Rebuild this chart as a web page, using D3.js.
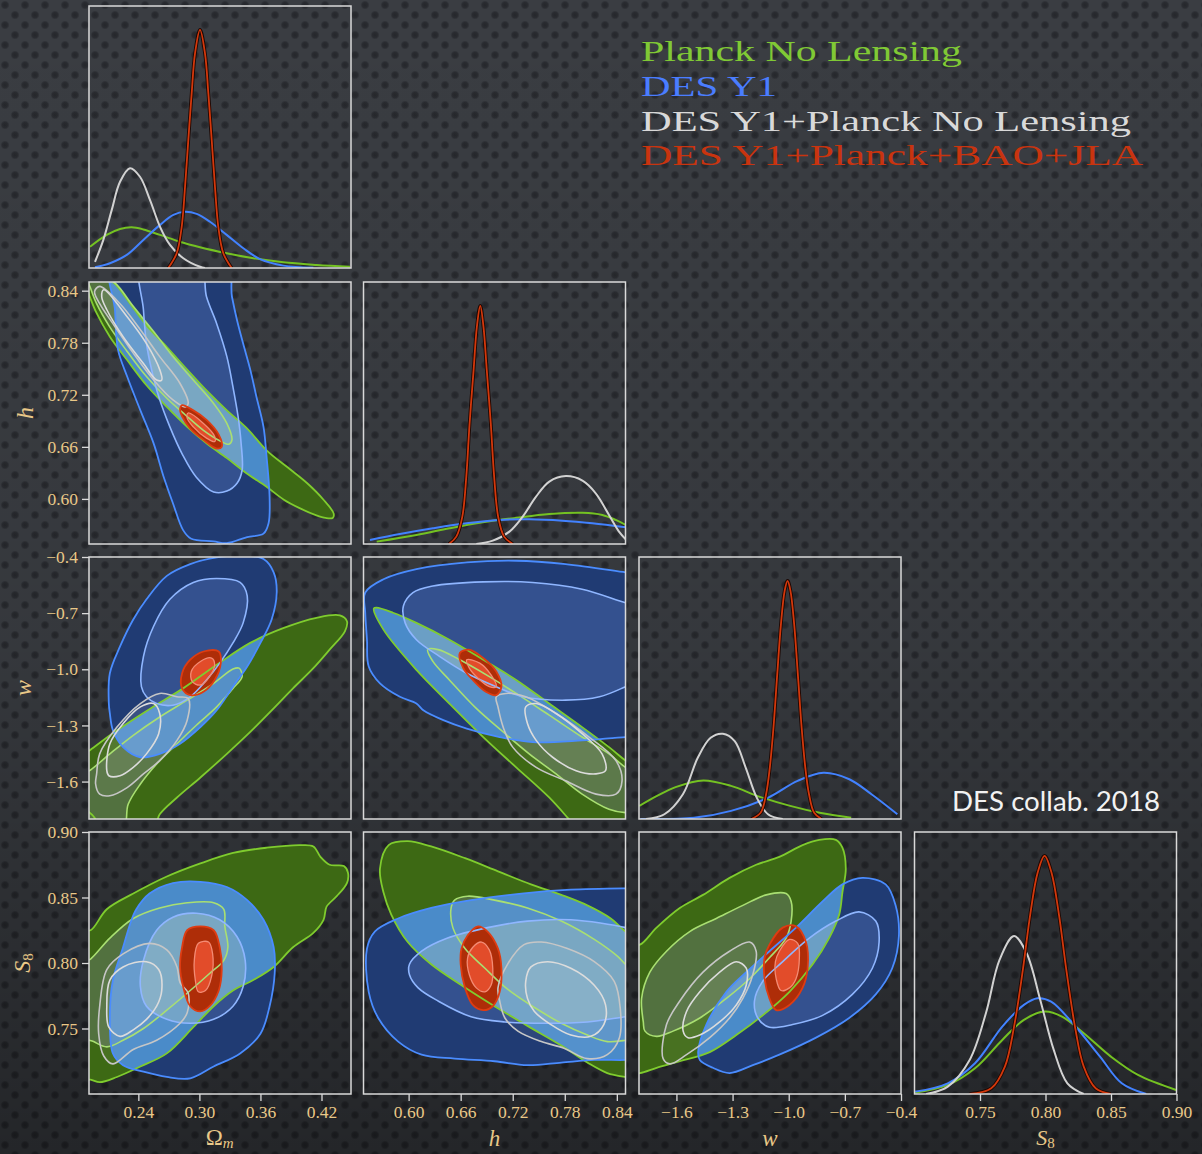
<!DOCTYPE html>
<html>
<head>
<meta charset="utf-8">
<script src="https://cdn.jsdelivr.net/npm/d3@7"></script>
<style>
  html, body { margin: 0; padding: 0; background: #35383d; }
  svg { display: block; }
</style>
</head>
<body>
<svg id="chart" width="1202" height="1154"></svg>
<script>
// ---------------- parameters ----------------
const paramDomains = [[0.1915, 0.449], [0.548, 0.850], [-1.80, -0.40], [0.70, 0.90]];
const paramTicks = [
  [0.24, 0.30, 0.36, 0.42],
  [0.60, 0.66, 0.72, 0.78, 0.84],
  [-1.6, -1.3, -1.0, -0.7, -0.4],
  [0.75, 0.80, 0.85, 0.90]
];
const paramDecimals = [2, 2, 1, 2];
const legendLabels = ["Planck No Lensing", "DES Y1", "DES Y1+Planck No Lensing", "DES Y1+Planck+BAO+JLA"];

// ---------------- 1D marginals: [value, relative density] ----------------
const om1dPlanck = [[0.1925,0.089],[0.2089,0.139],[0.2220,0.164],[0.2335,0.171],[0.2449,0.162],[0.2613,0.139],[0.2809,0.110],[0.3006,0.087],[0.3268,0.062],[0.3530,0.041],[0.3825,0.024],[0.4153,0.013],[0.4480,0.005]];
const om1dDes = [[0.1974,0.003],[0.2121,0.020],[0.2286,0.055],[0.2449,0.118],[0.2613,0.181],[0.2744,0.223],[0.2859,0.236],[0.2974,0.227],[0.3104,0.194],[0.3268,0.139],[0.3432,0.083],[0.3596,0.037],[0.3825,0.010],[0.4120,0.001]];
const om1dComb = [[0.1974,0.026],[0.2056,0.118],[0.2138,0.243],[0.2220,0.362],[0.2318,0.419],[0.2416,0.383],[0.2515,0.285],[0.2613,0.173],[0.2711,0.097],[0.2842,0.041],[0.3006,0.005],[0.3055,0]];
const om1dAll = [[0.2694,0],[0.2777,0.062],[0.2826,0.173],[0.2859,0.341],[0.2891,0.537],[0.2924,0.733],[0.2957,0.901],[0.3006,1.0],[0.3055,0.901],[0.3088,0.733],[0.3121,0.537],[0.3153,0.341],[0.3186,0.173],[0.3235,0.062],[0.3317,0]];

const h1dPlanck = [[0.5632,0.010],[0.6091,0.038],[0.6473,0.066],[0.6855,0.091],[0.7239,0.110],[0.7622,0.126],[0.8004,0.131],[0.8233,0.122],[0.8387,0.101],[0.8502,0.080]];
const h1dDes = [[0.5555,0.017],[0.5899,0.042],[0.6281,0.066],[0.6665,0.087],[0.7047,0.101],[0.7392,0.104],[0.7774,0.098],[0.8118,0.087],[0.8502,0.070]];
const h1dComb = [[0.6780,0],[0.6970,0.014],[0.7162,0.052],[0.7315,0.115],[0.7469,0.199],[0.7622,0.262],[0.7813,0.285],[0.8004,0.266],[0.8157,0.213],[0.8310,0.122],[0.8425,0.052],[0.8502,0.020]];
const h1dAll = [[0.6465,0],[0.6550,0.031],[0.6619,0.115],[0.6665,0.283],[0.6703,0.507],[0.6749,0.730],[0.6787,0.912],[0.6826,1.0],[0.6863,0.912],[0.6901,0.730],[0.6947,0.507],[0.6986,0.283],[0.7032,0.115],[0.7101,0.031],[0.7200,0]];

const w1dPlanck = [[-1.7984,0.055],[-1.7036,0.097],[-1.6047,0.134],[-1.4567,0.162],[-1.3083,0.139],[-1.1502,0.092],[-0.9921,0.055],[-0.8346,0.026],[-0.6664,0.005]];
const w1dDes = [[-1.7925,0],[-1.5062,0.005],[-1.3083,0.034],[-1.1108,0.089],[-0.9527,0.160],[-0.8143,0.194],[-0.6763,0.167],[-0.5578,0.104],[-0.4194,0.020]];
const w1dComb = [[-1.7627,0],[-1.6643,0.020],[-1.5653,0.104],[-1.4860,0.257],[-1.4173,0.341],[-1.3519,0.358],[-1.2886,0.327],[-1.2295,0.215],[-1.1704,0.089],[-1.1108,0.020],[-1.0320,0]];
const w1dAll = [[-1.1997,0],[-1.1502,0.026],[-1.1209,0.104],[-1.1012,0.215],[-1.0815,0.383],[-1.0613,0.607],[-1.0416,0.817],[-1.0219,0.957],[-1.0060,1.0],[-0.9905,0.957],[-0.9708,0.817],[-0.9511,0.607],[-0.9309,0.383],[-0.9112,0.215],[-0.8915,0.104],[-0.8639,0.026],[-0.8245,0]];

const s1dPlanck = [[0.7005,0.005],[0.7254,0.038],[0.7462,0.108],[0.7670,0.227],[0.7835,0.311],[0.7993,0.346],[0.8126,0.325],[0.8292,0.255],[0.8499,0.157],[0.8706,0.080],[0.8997,0.017]];
const s1dDes = [[0.7005,0.010],[0.7254,0.045],[0.7462,0.129],[0.7670,0.283],[0.7835,0.374],[0.7939,0.402],[0.8043,0.388],[0.8208,0.297],[0.8416,0.157],[0.8582,0.045],[0.8769,0]];
const s1dComb = [[0.7089,0],[0.7254,0.031],[0.7421,0.143],[0.7545,0.339],[0.7649,0.563],[0.7760,0.663],[0.7856,0.591],[0.7960,0.395],[0.8063,0.185],[0.8167,0.045],[0.8292,0]];
const s1dAll = [[0.7421,0],[0.7586,0.024],[0.7690,0.115],[0.7760,0.283],[0.7827,0.521],[0.7885,0.759],[0.7939,0.927],[0.7993,1.0],[0.8047,0.927],[0.8101,0.759],[0.8159,0.521],[0.8225,0.283],[0.8292,0.115],[0.8383,0.024],[0.8499,0]];

// ---------------- 2D credible contours (95% and 68%) ----------------
// Omega_m vs h
const omhPlanck95 = [[0.202,0.856],[0.215,0.850],[0.232,0.825],[0.248,0.800],[0.268,0.775],[0.288,0.749],[0.307,0.725],[0.327,0.702],[0.347,0.681],[0.366,0.656],[0.386,0.637],[0.406,0.618],[0.422,0.599],[0.432,0.583],[0.431,0.578],[0.424,0.578],[0.415,0.581],[0.399,0.589],[0.383,0.599],[0.366,0.614],[0.347,0.629],[0.327,0.647],[0.307,0.664],[0.288,0.683],[0.268,0.706],[0.248,0.731],[0.229,0.760],[0.212,0.787],[0.199,0.814],[0.191,0.837],[0.183,0.864]];
const omhPlanck68 = [[0.202,0.858],[0.217,0.849],[0.235,0.822],[0.255,0.793],[0.274,0.764],[0.294,0.737],[0.314,0.710],[0.327,0.687],[0.332,0.668],[0.329,0.663],[0.320,0.667],[0.304,0.679],[0.286,0.697],[0.268,0.716],[0.248,0.741],[0.229,0.770],[0.212,0.798],[0.199,0.825],[0.193,0.843],[0.189,0.858]];
const omhDes95 = [[0.214,0.873],[0.217,0.818],[0.220,0.772],[0.229,0.741],[0.242,0.702],[0.255,0.664],[0.265,0.625],[0.274,0.595],[0.284,0.564],[0.292,0.554],[0.314,0.551],[0.327,0.549],[0.347,0.556],[0.363,0.560],[0.368,0.572],[0.369,0.602],[0.366,0.649],[0.363,0.683],[0.356,0.718],[0.350,0.749],[0.343,0.779],[0.337,0.806],[0.332,0.833],[0.326,0.873]];
const omhDes68 = [[0.243,0.873],[0.245,0.818],[0.248,0.779],[0.253,0.749],[0.260,0.718],[0.271,0.683],[0.283,0.652],[0.297,0.625],[0.314,0.608],[0.327,0.609],[0.337,0.618],[0.342,0.633],[0.341,0.664],[0.338,0.695],[0.333,0.729],[0.327,0.764],[0.317,0.802],[0.307,0.833],[0.300,0.873]];
const omhComb95 = [[0.202,0.845],[0.222,0.825],[0.242,0.795],[0.261,0.764],[0.281,0.733],[0.289,0.710],[0.286,0.706],[0.274,0.714],[0.255,0.737],[0.235,0.768],[0.215,0.802],[0.202,0.825],[0.197,0.839]];
const omhComb68 = [[0.206,0.841],[0.229,0.810],[0.248,0.779],[0.261,0.749],[0.263,0.737],[0.258,0.737],[0.245,0.756],[0.225,0.787],[0.209,0.818],[0.204,0.833]];
const omhAll95 = [[0.283,0.708],[0.294,0.702],[0.307,0.691],[0.319,0.674],[0.322,0.660],[0.317,0.658],[0.304,0.668],[0.291,0.681],[0.283,0.695],[0.281,0.704]];
const omhAll68 = [[0.289,0.699],[0.304,0.687],[0.315,0.672],[0.315,0.666],[0.307,0.670],[0.294,0.683],[0.288,0.693]];

// Omega_m vs w
const omwPlanck95 = [[0.183,-1.470],[0.193,-1.430],[0.219,-1.326],[0.252,-1.209],[0.284,-1.102],[0.317,-0.976],[0.350,-0.859],[0.383,-0.779],[0.415,-0.725],[0.438,-0.712],[0.445,-0.743],[0.443,-0.797],[0.428,-0.895],[0.412,-0.994],[0.392,-1.102],[0.373,-1.209],[0.350,-1.335],[0.327,-1.452],[0.301,-1.578],[0.278,-1.685],[0.261,-1.775],[0.255,-1.847],[0.202,-1.847],[0.197,-1.793],[0.191,-1.761],[0.183,-1.739]];
const omwPlanck68 = [[0.186,-1.559],[0.193,-1.538],[0.212,-1.452],[0.235,-1.353],[0.261,-1.255],[0.288,-1.165],[0.314,-1.075],[0.333,-0.999],[0.339,-0.994],[0.342,-1.039],[0.333,-1.102],[0.317,-1.201],[0.297,-1.299],[0.278,-1.398],[0.258,-1.506],[0.242,-1.613],[0.230,-1.721],[0.225,-1.847],[0.186,-1.847]];
const omwDes95 = [[0.211,-1.183],[0.212,-1.021],[0.222,-0.878],[0.235,-0.734],[0.248,-0.626],[0.268,-0.501],[0.291,-0.438],[0.317,-0.402],[0.343,-0.393],[0.363,-0.411],[0.373,-0.482],[0.376,-0.590],[0.371,-0.734],[0.360,-0.859],[0.347,-0.985],[0.333,-1.093],[0.317,-1.219],[0.301,-1.309],[0.281,-1.398],[0.261,-1.452],[0.242,-1.470],[0.225,-1.416],[0.215,-1.326],[0.212,-1.236]];
const omwDes68 = [[0.243,-1.093],[0.245,-0.932],[0.255,-0.770],[0.271,-0.626],[0.294,-0.536],[0.317,-0.515],[0.340,-0.536],[0.347,-0.608],[0.343,-0.752],[0.333,-0.859],[0.320,-0.967],[0.307,-1.057],[0.291,-1.147],[0.274,-1.192],[0.258,-1.183],[0.248,-1.147]];
const omwComb95 = [[0.199,-1.559],[0.202,-1.452],[0.219,-1.309],[0.242,-1.183],[0.261,-1.129],[0.278,-1.147],[0.289,-1.156],[0.288,-1.272],[0.278,-1.380],[0.261,-1.488],[0.245,-1.559],[0.229,-1.632],[0.212,-1.676],[0.202,-1.667],[0.198,-1.613]];
const omwComb68 = [[0.209,-1.542],[0.212,-1.398],[0.225,-1.290],[0.242,-1.201],[0.255,-1.183],[0.261,-1.236],[0.260,-1.344],[0.248,-1.452],[0.235,-1.524],[0.222,-1.569],[0.211,-1.569]];
const omwAll95 = [[0.283,-1.021],[0.291,-0.949],[0.304,-0.905],[0.319,-0.905],[0.321,-0.967],[0.315,-1.057],[0.304,-1.120],[0.291,-1.138],[0.283,-1.102]];
const omwAll68 = [[0.292,-1.012],[0.301,-0.958],[0.312,-0.940],[0.315,-0.976],[0.310,-1.039],[0.301,-1.084],[0.293,-1.066]];

// h vs w
const hwPlanck95 = [[0.563,-0.671],[0.582,-0.698],[0.609,-0.752],[0.647,-0.842],[0.686,-0.949],[0.724,-1.057],[0.762,-1.183],[0.800,-1.309],[0.831,-1.416],[0.850,-1.488],[0.866,-1.542],[0.866,-1.865],[0.797,-1.865],[0.785,-1.802],[0.762,-1.685],[0.724,-1.524],[0.686,-1.362],[0.647,-1.183],[0.609,-1.003],[0.571,-0.788],[0.560,-0.675]];
const hwPlanck68 = [[0.622,-0.895],[0.634,-0.895],[0.659,-0.949],[0.693,-1.039],[0.724,-1.129],[0.762,-1.245],[0.800,-1.362],[0.831,-1.452],[0.850,-1.524],[0.866,-1.559],[0.866,-1.757],[0.850,-1.766],[0.831,-1.748],[0.800,-1.667],[0.770,-1.559],[0.739,-1.452],[0.709,-1.335],[0.678,-1.209],[0.647,-1.057],[0.628,-0.958]];
const hwDes95 = [[0.550,-0.590],[0.571,-0.519],[0.609,-0.465],[0.667,-0.429],[0.724,-0.420],[0.781,-0.438],[0.850,-0.482],[0.866,-0.492],[0.866,-1.362],[0.850,-1.362],[0.800,-1.380],[0.743,-1.389],[0.705,-1.362],[0.667,-1.317],[0.640,-1.272],[0.617,-1.219],[0.609,-1.183],[0.590,-1.147],[0.567,-1.075],[0.554,-0.985],[0.552,-0.842],[0.550,-0.698]];
const hwDes68 = [[0.594,-0.662],[0.605,-0.590],[0.628,-0.555],[0.686,-0.533],[0.743,-0.536],[0.800,-0.572],[0.850,-0.644],[0.866,-0.662],[0.866,-1.057],[0.850,-1.093],[0.820,-1.147],[0.781,-1.165],[0.732,-1.147],[0.701,-1.093],[0.667,-1.021],[0.636,-0.932],[0.609,-0.842],[0.596,-0.752]];
const hwComb95 = [[0.701,-1.147],[0.712,-1.129],[0.735,-1.147],[0.770,-1.236],[0.808,-1.362],[0.839,-1.488],[0.846,-1.596],[0.839,-1.667],[0.816,-1.667],[0.781,-1.596],[0.747,-1.524],[0.720,-1.416],[0.709,-1.309],[0.703,-1.201]];
const hwComb68 = [[0.735,-1.201],[0.747,-1.183],[0.770,-1.236],[0.800,-1.344],[0.823,-1.452],[0.827,-1.542],[0.816,-1.559],[0.793,-1.542],[0.766,-1.470],[0.747,-1.380],[0.737,-1.290]];
const hwAll95 = [[0.659,-0.913],[0.670,-0.895],[0.686,-0.940],[0.701,-1.012],[0.707,-1.093],[0.701,-1.138],[0.689,-1.120],[0.674,-1.057],[0.663,-0.994]];
const hwAll68 = [[0.667,-0.949],[0.682,-0.967],[0.695,-1.030],[0.701,-1.093],[0.693,-1.093],[0.680,-1.048],[0.670,-0.994]];

// Omega_m vs S8
const omsPlanck95 = [[0.193,0.825],[0.209,0.841],[0.235,0.853],[0.268,0.866],[0.301,0.876],[0.333,0.884],[0.366,0.888],[0.399,0.890],[0.412,0.889],[0.419,0.881],[0.428,0.875],[0.442,0.874],[0.446,0.869],[0.445,0.861],[0.435,0.851],[0.425,0.843],[0.422,0.833],[0.412,0.823],[0.392,0.812],[0.373,0.797],[0.353,0.787],[0.333,0.779],[0.314,0.767],[0.294,0.751],[0.268,0.731],[0.242,0.721],[0.219,0.713],[0.202,0.709],[0.193,0.711],[0.183,0.711],[0.183,0.825]];
const omsPlanck68 = [[0.186,0.800],[0.193,0.803],[0.212,0.819],[0.235,0.834],[0.261,0.842],[0.288,0.846],[0.314,0.846],[0.324,0.841],[0.325,0.828],[0.328,0.812],[0.324,0.802],[0.310,0.792],[0.291,0.779],[0.268,0.764],[0.245,0.750],[0.225,0.741],[0.209,0.736],[0.196,0.740],[0.186,0.744]];
const omsDes95 = [[0.238,0.841],[0.251,0.853],[0.274,0.861],[0.301,0.862],[0.327,0.858],[0.347,0.848],[0.363,0.833],[0.373,0.812],[0.374,0.792],[0.369,0.767],[0.360,0.746],[0.340,0.731],[0.314,0.721],[0.291,0.712],[0.268,0.713],[0.245,0.717],[0.225,0.722],[0.215,0.731],[0.212,0.757],[0.215,0.787],[0.225,0.812],[0.232,0.830]];
const omsDes68 = [[0.258,0.825],[0.274,0.835],[0.297,0.838],[0.320,0.833],[0.337,0.820],[0.345,0.802],[0.343,0.782],[0.333,0.767],[0.314,0.757],[0.291,0.754],[0.268,0.757],[0.248,0.767],[0.242,0.782],[0.245,0.802]];
const omsComb95 = [[0.202,0.767],[0.209,0.795],[0.225,0.807],[0.251,0.815],[0.268,0.810],[0.278,0.797],[0.281,0.785],[0.289,0.777],[0.288,0.762],[0.281,0.754],[0.258,0.741],[0.235,0.734],[0.215,0.723],[0.206,0.729],[0.201,0.746]];
const omsComb68 = [[0.212,0.787],[0.225,0.797],[0.248,0.801],[0.260,0.795],[0.263,0.779],[0.258,0.767],[0.248,0.757],[0.235,0.749],[0.222,0.744],[0.211,0.751],[0.209,0.767]];
const omsAll95 = [[0.288,0.825],[0.301,0.828],[0.314,0.825],[0.320,0.812],[0.322,0.795],[0.319,0.779],[0.310,0.767],[0.301,0.763],[0.291,0.767],[0.284,0.782],[0.281,0.797],[0.283,0.812]];
const omsAll68 = [[0.299,0.815],[0.309,0.816],[0.313,0.807],[0.312,0.790],[0.306,0.779],[0.299,0.778],[0.296,0.787],[0.295,0.802]];

// h vs S8
const hsPlanck95 = [[0.567,0.872],[0.577,0.890],[0.599,0.893],[0.626,0.889],[0.665,0.880],[0.703,0.870],[0.741,0.860],[0.776,0.852],[0.806,0.844],[0.833,0.834],[0.850,0.824],[0.864,0.819],[0.864,0.712],[0.850,0.713],[0.829,0.716],[0.806,0.724],[0.776,0.737],[0.737,0.752],[0.699,0.767],[0.661,0.783],[0.626,0.799],[0.599,0.816],[0.580,0.837],[0.571,0.854]];
const hsPlanck68 = [[0.649,0.842],[0.653,0.848],[0.668,0.851],[0.699,0.848],[0.737,0.842],[0.776,0.832],[0.814,0.818],[0.841,0.805],[0.850,0.799],[0.864,0.793],[0.864,0.743],[0.850,0.741],[0.829,0.740],[0.806,0.745],[0.776,0.754],[0.745,0.766],[0.714,0.780],[0.688,0.796],[0.665,0.811],[0.651,0.827]];
const hsDes95 = [[0.552,0.811],[0.561,0.824],[0.588,0.834],[0.626,0.842],[0.672,0.848],[0.730,0.853],[0.787,0.856],[0.850,0.857],[0.864,0.857],[0.864,0.727],[0.850,0.726],[0.814,0.726],[0.776,0.724],[0.737,0.722],[0.699,0.725],[0.653,0.727],[0.615,0.730],[0.588,0.740],[0.565,0.758],[0.554,0.778]];
const hsDes68 = [[0.601,0.799],[0.615,0.809],[0.645,0.819],[0.691,0.827],[0.737,0.832],[0.787,0.833],[0.850,0.827],[0.864,0.824],[0.864,0.760],[0.850,0.759],[0.806,0.755],[0.760,0.754],[0.711,0.755],[0.672,0.759],[0.634,0.771],[0.611,0.781],[0.601,0.791]];
const hsComb95 = [[0.703,0.781],[0.714,0.799],[0.733,0.814],[0.753,0.816],[0.783,0.811],[0.814,0.801],[0.837,0.786],[0.844,0.765],[0.843,0.743],[0.829,0.730],[0.806,0.727],[0.779,0.735],[0.753,0.740],[0.726,0.748],[0.711,0.758],[0.705,0.771]];
const hsComb68 = [[0.735,0.786],[0.741,0.797],[0.760,0.801],[0.787,0.796],[0.814,0.783],[0.827,0.768],[0.825,0.753],[0.810,0.744],[0.787,0.745],[0.764,0.753],[0.745,0.763],[0.737,0.773]];
const hsAll95 = [[0.668,0.821],[0.680,0.828],[0.691,0.824],[0.703,0.811],[0.707,0.796],[0.705,0.778],[0.697,0.767],[0.686,0.764],[0.674,0.768],[0.665,0.781],[0.660,0.799],[0.661,0.811]];
const hsAll68 = [[0.674,0.812],[0.684,0.816],[0.693,0.810],[0.697,0.796],[0.695,0.783],[0.688,0.778],[0.678,0.781],[0.670,0.791],[0.668,0.804]];

// w vs S8
const wsPlanck95 = [[-1.795,0.814],[-1.706,0.827],[-1.582,0.842],[-1.458,0.852],[-1.316,0.865],[-1.174,0.875],[-1.050,0.881],[-0.926,0.890],[-0.837,0.894],[-0.748,0.894],[-0.713,0.888],[-0.695,0.872],[-0.713,0.854],[-0.730,0.837],[-0.784,0.819],[-0.872,0.799],[-0.996,0.778],[-1.139,0.760],[-1.280,0.745],[-1.422,0.732],[-1.582,0.725],[-1.706,0.720],[-1.795,0.716],[-1.848,0.716],[-1.848,0.814]];
const wsPlanck68 = [[-1.777,0.755],[-1.786,0.773],[-1.742,0.793],[-1.653,0.809],[-1.529,0.824],[-1.387,0.834],[-1.245,0.844],[-1.120,0.852],[-1.014,0.853],[-0.987,0.847],[-0.987,0.832],[-1.014,0.819],[-1.103,0.804],[-1.209,0.788],[-1.333,0.773],[-1.475,0.758],[-1.618,0.748],[-1.706,0.744],[-1.768,0.748]];
const wsDes95 = [[-1.484,0.732],[-1.440,0.753],[-1.333,0.778],[-1.227,0.793],[-1.103,0.809],[-0.961,0.827],[-0.819,0.847],[-0.713,0.860],[-0.606,0.865],[-0.482,0.860],[-0.429,0.844],[-0.411,0.821],[-0.447,0.796],[-0.535,0.776],[-0.677,0.758],[-0.854,0.743],[-1.050,0.730],[-1.192,0.722],[-1.316,0.716],[-1.405,0.720],[-1.475,0.726]];
const wsDes68 = [[-1.183,0.771],[-1.139,0.786],[-1.032,0.801],[-0.890,0.819],[-0.748,0.832],[-0.624,0.839],[-0.535,0.832],[-0.517,0.816],[-0.553,0.796],[-0.660,0.776],[-0.819,0.760],[-0.979,0.753],[-1.103,0.751],[-1.165,0.758]];
const wsComb95 = [[-1.671,0.727],[-1.653,0.753],[-1.582,0.771],[-1.458,0.793],[-1.316,0.809],[-1.209,0.816],[-1.174,0.809],[-1.192,0.791],[-1.245,0.773],[-1.316,0.758],[-1.422,0.743],[-1.546,0.730],[-1.635,0.723]];
const wsComb68 = [[-1.564,0.748],[-1.546,0.763],[-1.475,0.778],[-1.369,0.793],[-1.280,0.801],[-1.227,0.796],[-1.227,0.783],[-1.280,0.768],[-1.369,0.755],[-1.475,0.745],[-1.538,0.743]];
const wsAll95 = [[-1.103,0.814],[-1.032,0.827],[-0.961,0.828],[-0.908,0.816],[-0.899,0.796],[-0.926,0.781],[-0.996,0.768],[-1.067,0.764],[-1.103,0.773],[-1.129,0.788],[-1.129,0.804]];
const wsAll68 = [[-1.050,0.809],[-0.996,0.818],[-0.952,0.815],[-0.943,0.804],[-0.961,0.788],[-0.996,0.781],[-1.041,0.779],[-1.067,0.788],[-1.071,0.801]];

// ---------------- layout & style ----------------
const W = 1202, H = 1154, S = 262;
const colX = [89, 363.5, 639, 914.5];
const rowY = [6, 282, 557, 832];
const C = {
  g95: "#3d6914", g68: "#52713f", b95: "#203b73", b68: "#34518f",
  b95g95: "#4a8bc9", b68g95: "#6b9fc5", b95g68: "#5590c7", b68g68: "#79a7c2",
  lG95: "#7fcc2e", lG68: "#a9df72", lB95: "#4a8cff", lB68: "#8fb6ff",
  lC95: "#c6c6c6", lC68: "#dcdcdc",
  r95: "#ae2d08", r68: "#e24c2a", lR95: "#de3c12", lR68: "#f38b74",
  green: "#74c222", blue: "#4282ff", gray: "#d2d2d2", red: "#d3380c",
  text: "#e9c888", frame: "#dadada"
};
const legendColors = ["#80c935", "#4a7dff", "#d9d9d9", "#c9340f"];
const legendLengths = [321, 136, 490, 502];

const xS = paramDomains.map((d, i) => d3.scaleLinear().domain(d).range([colX[i], colX[i] + S]));
const yS = paramDomains.map((d, i) => d3.scaleLinear().domain(d).range([rowY[i] + S, rowY[i]]));
const dS = rowY.map(y => d3.scaleLinear().domain([0, 1.1]).range([y + S, y]));

const svg = d3.select("#chart");
const defs = svg.append("defs");

// textured background: staggered soft dots with a darker lower vignette
const dotGrad = defs.append("radialGradient").attr("id", "dotGrad");
dotGrad.append("stop").attr("offset", "0%").attr("stop-color", "#25272b");
dotGrad.append("stop").attr("offset", "60%").attr("stop-color", "#2a2c31");
dotGrad.append("stop").attr("offset", "100%").attr("stop-color", "#2a2c31").attr("stop-opacity", 0);
const pat = defs.append("pattern").attr("id", "dots").attr("patternUnits", "userSpaceOnUse")
  .attr("width", 20).attr("height", 20);
pat.append("rect").attr("width", 20).attr("height", 20).attr("fill", "#3a3d42");
[[5, 5], [15, 15]].forEach(([cx, cy]) =>
  pat.append("circle").attr("cx", cx).attr("cy", cy).attr("r", 4.6).attr("fill", "url(#dotGrad)"));
const vig = defs.append("linearGradient").attr("id", "vig").attr("x1", 0).attr("y1", 0).attr("x2", 0).attr("y2", 1);
vig.append("stop").attr("offset", "0%").attr("stop-color", "#000").attr("stop-opacity", 0.0);
vig.append("stop").attr("offset", "55%").attr("stop-color", "#000").attr("stop-opacity", 0.08);
vig.append("stop").attr("offset", "100%").attr("stop-color", "#000").attr("stop-opacity", 0.38);
svg.append("rect").attr("width", W).attr("height", H).attr("fill", "url(#dots)");
svg.append("rect").attr("width", W).attr("height", H).attr("fill", "url(#vig)");

const closed = (sx, sy) => d3.line().x(d => sx(d[0])).y(d => sy(d[1])).curve(d3.curveCatmullRomClosed.alpha(0.5));
const open = (sx, sy) => d3.line().x(d => sx(d[0])).y(d => sy(d[1])).curve(d3.curveCatmullRom.alpha(0.5));

function panelClip(id, r, c) {
  defs.append("clipPath").attr("id", id).append("rect")
    .attr("x", colX[c]).attr("y", rowY[r]).attr("width", S).attr("height", S);
}

// ---------------- 2D panels ----------------
const panels2D = [
  { r: 1, c: 0, planck: [omhPlanck95, omhPlanck68], des: [omhDes95, omhDes68], comb: [omhComb95, omhComb68], all: [omhAll95, omhAll68] },
  { r: 2, c: 0, planck: [omwPlanck95, omwPlanck68], des: [omwDes95, omwDes68], comb: [omwComb95, omwComb68], all: [omwAll95, omwAll68] },
  { r: 2, c: 1, planck: [hwPlanck95, hwPlanck68], des: [hwDes95, hwDes68], comb: [hwComb95, hwComb68], all: [hwAll95, hwAll68] },
  { r: 3, c: 0, planck: [omsPlanck95, omsPlanck68], des: [omsDes95, omsDes68], comb: [omsComb95, omsComb68], all: [omsAll95, omsAll68] },
  { r: 3, c: 1, planck: [hsPlanck95, hsPlanck68], des: [hsDes95, hsDes68], comb: [hsComb95, hsComb68], all: [hsAll95, hsAll68] },
  { r: 3, c: 2, planck: [wsPlanck95, wsPlanck68], des: [wsDes95, wsDes68], comb: [wsComb95, wsComb68], all: [wsAll95, wsAll68] }
];

panels2D.forEach((p, k) => {
  const id = "p" + k;
  const line = closed(xS[p.c], yS[p.r]);
  panelClip(id + "clip", p.r, p.c);
  defs.append("clipPath").attr("id", id + "g95").append("path").attr("d", line(p.planck[0]));
  defs.append("clipPath").attr("id", id + "g68").append("path").attr("d", line(p.planck[1]));

  const g = svg.append("g").attr("clip-path", `url(#${id}clip)`);
  const fill = (data, color, clip, op) => {
    const el = g.append("path").attr("d", line(data)).attr("fill", color).attr("stroke", "none");
    if (clip) el.attr("clip-path", `url(#${id}${clip})`);
    if (op !== undefined) el.attr("fill-opacity", op);
  };
  fill(p.planck[0], C.g95);
  fill(p.planck[1], C.g68);
  fill(p.des[0], C.b95);
  fill(p.des[1], C.b68);
  fill(p.des[0], C.b95g95, "g95");
  fill(p.des[1], C.b68g95, "g95");
  fill(p.des[0], C.b95g68, "g68");
  fill(p.des[1], C.b68g68, "g68");
  fill(p.comb[0], "#ffffff", null, 0.06);
  fill(p.comb[1], "#ffffff", null, 0.06);
  fill(p.all[0], C.r95);
  fill(p.all[1], C.r68);

  const stroke = (data, color, w) => g.append("path").attr("d", line(data))
    .attr("fill", "none").attr("stroke", color).attr("stroke-width", w).attr("stroke-linejoin", "round");
  stroke(p.planck[0], C.lG95, 1.8);
  stroke(p.planck[1], C.lG68, 1.6);
  stroke(p.des[0], C.lB95, 1.8);
  stroke(p.des[1], C.lB68, 1.6);
  stroke(p.comb[0], C.lC95, 1.6);
  stroke(p.comb[1], C.lC68, 1.6);
  stroke(p.all[0], C.lR95, 1.8);
  stroke(p.all[1], C.lR68, 1.3);
});

// ---------------- 1D panels ----------------
const marginals = [
  [om1dPlanck, om1dDes, om1dComb, om1dAll],
  [h1dPlanck, h1dDes, h1dComb, h1dAll],
  [w1dPlanck, w1dDes, w1dComb, w1dAll],
  [s1dPlanck, s1dDes, s1dComb, s1dAll]
];
marginals.forEach((set, i) => {
  const id = "d" + i;
  panelClip(id + "clip", i, i);
  const g = svg.append("g").attr("clip-path", `url(#${id}clip)`);
  const line = open(xS[i], dS[i]);
  const draw = (data, color, w) => g.append("path").attr("d", line(data))
    .attr("fill", "none").attr("stroke", color).attr("stroke-width", w).attr("stroke-linejoin", "round");
  draw(set[0], C.green, 2);
  draw(set[1], C.blue, 2);
  draw(set[2], C.gray, 2);
  draw(set[3], "#1c0703", 3.6);
  draw(set[3], C.red, 1.8);
});

// ---------------- frames ----------------
for (let r = 0; r < 4; r++) {
  for (let c = 0; c <= r; c++) {
    svg.append("rect").attr("x", colX[c]).attr("y", rowY[r]).attr("width", S).attr("height", S)
      .attr("fill", "none").attr("stroke", C.frame).attr("stroke-width", 1.5);
  }
}

// ---------------- axes ----------------
const serif = "'Liberation Serif', 'DejaVu Serif', serif";
const fmt = i => v => (v < 0 ? "\u2212" : "") + Math.abs(v).toFixed(paramDecimals[i]);
function styleAxis(sel) {
  sel.select(".domain").remove();
  sel.selectAll(".tick line").attr("stroke", C.frame).attr("stroke-width", 1.3);
  sel.selectAll(".tick text").attr("fill", C.text)
    .style("font-family", serif).style("font-size", "17.5px");
}
for (let r = 1; r < 4; r++) {
  svg.append("g").attr("transform", `translate(${colX[0]},0)`)
    .call(d3.axisLeft(yS[r]).tickValues(paramTicks[r]).tickFormat(fmt(r)).tickSize(7).tickPadding(4))
    .call(styleAxis);
}
for (let c = 0; c < 4; c++) {
  svg.append("g").attr("transform", `translate(0,${rowY[3] + S})`)
    .call(d3.axisBottom(xS[c]).tickValues(paramTicks[c]).tickFormat(fmt(c)).tickSize(7).tickPadding(5))
    .call(styleAxis);
}

// axis titles
function axisTitle(x, y, rot, main, sub, italicMain, size) {
  const t = svg.append("text").attr("transform", `translate(${x},${y}) rotate(${rot})`)
    .attr("text-anchor", "middle").attr("fill", C.text)
    .style("font-family", serif).style("font-size", size + "px");
  t.append("tspan").text(main).style("font-style", italicMain ? "italic" : "normal");
  if (sub) t.append("tspan").text(sub).attr("dy", 3).style("font-size", "15px")
    .style("font-style", sub === "m" ? "italic" : "normal");
}
axisTitle(xS[0](0.32), 1145, 0, "\u03A9", "m", false, 23);
axisTitle(xS[1](0.699), 1146, 0, "h", null, true, 23);
axisTitle(xS[2](-1.1), 1146, 0, "w", null, true, 23);
axisTitle(xS[3](0.80), 1145, 0, "S", "8", true, 22);
axisTitle(33, yS[1](0.699), -90, "h", null, true, 24);
axisTitle(31, yS[2](-1.1), -90, "w", null, true, 24);
axisTitle(30, yS[3](0.80), -90, "S", "8", true, 24);

// ---------------- legend ----------------
legendLabels.forEach((lab, i) => {
  svg.append("text").attr("x", 641).attr("y", 61 + i * 34.8)
    .attr("fill", legendColors[i]).attr("textLength", legendLengths[i]).attr("lengthAdjust", "spacingAndGlyphs")
    .style("font-family", serif).style("font-size", "30px").text(lab);
});

svg.append("text").attr("x", 952).attr("y", 811).attr("fill", "#f2f2f2")
  .attr("textLength", 208).attr("lengthAdjust", "spacingAndGlyphs")
  .style("font-family", "Lato, 'Open Sans', sans-serif").style("font-size", "26px")
  .text("DES collab. 2018");
</script>
</body>
</html>
